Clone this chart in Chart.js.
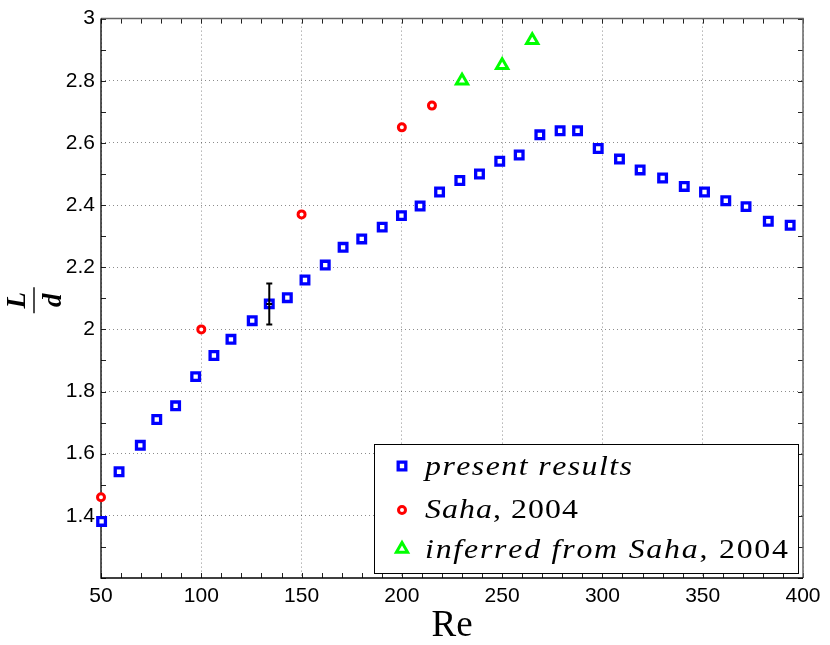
<!DOCTYPE html>
<html>
<head>
<meta charset="utf-8">
<script src="https://cdn.jsdelivr.net/npm/chart.js@4.4.1/dist/chart.umd.min.js"></script>
<style>
  html, body { margin: 0; padding: 0; background: #fff; }
  #wrap { width: 830px; height: 645px; position: relative; }
</style>
</head>
<body>
<div id="wrap"><canvas id="chart"></canvas></div>
<script>
// present results
const reValues = [50.3, 59.0, 69.6, 77.8, 87.2, 97.2, 106.3, 114.8, 125.4, 133.9, 142.9, 151.7,
  161.8, 170.7, 180.0, 190.2, 199.8, 209.1, 218.8, 228.9, 238.7, 248.8, 258.5, 268.8, 278.9,
  287.6, 297.9, 308.5, 318.8, 330.0, 340.8, 350.9, 361.5, 371.6, 382.7, 393.6];
const ldValues = [1.382, 1.542, 1.627, 1.710, 1.754, 1.848, 1.916, 1.968, 2.028, 2.082, 2.102, 2.159,
  2.207, 2.264, 2.291, 2.329, 2.366, 2.397, 2.442, 2.479, 2.500, 2.541, 2.561, 2.626, 2.639,
  2.639, 2.582, 2.548, 2.513, 2.487, 2.460, 2.442, 2.414, 2.395, 2.348, 2.335];

// Saha 2004
const sahaRe = [50, 100, 150, 200, 215];
const sahaLd = [1.46, 2.00, 2.37, 2.65, 2.72];

// inferred from Saha 2004
const inferredRe = [230, 250, 265];
const inferredLd = [2.80, 2.85, 2.93];

// error bar on one present result
const errRe = [133.9];
const errLow = [2.016];
const errHigh = [2.148];

const xTicks = [50, 100, 150, 200, 250, 300, 350, 400];
const yTicks = [1.4, 1.6, 1.8, 2, 2.2, 2.4, 2.6, 2.8, 3];

// legend text: [text, italic]
const legendRows = [
  [['present results', true]],
  [['Saha', true], [', 2004', false]],
  [['inferred from Saha', true], [', 2004', false]]
];

const toPts = (xs, ys) => xs.map((v, i) => ({ x: v, y: ys[i] }));

// frame, inward ticks, error bar, y label, legend
const extras = {
  id: 'extras',
  beforeDatasetsDraw(chart) {
    const { ctx, chartArea: a, scales: { x, y } } = chart;
    ctx.save();
    ctx.lineWidth = 1;
    ctx.strokeStyle = '#222';
    ctx.beginPath();
    for (let v = 50; v <= 400; v += 10) {
      const px = Math.round(x.getPixelForValue(v)) + 0.5;
      ctx.moveTo(px, a.bottom); ctx.lineTo(px, a.bottom - 5);
      ctx.moveTo(px, a.top); ctx.lineTo(px, a.top + 5);
    }
    for (let k = 12; k <= 30; k++) {
      const py = Math.round(y.getPixelForValue(k / 10)) + 0.5;
      ctx.moveTo(a.left, py); ctx.lineTo(a.left + 5, py);
      ctx.moveTo(a.right, py); ctx.lineTo(a.right - 5, py);
    }
    ctx.stroke();
    // box
    ctx.strokeStyle = '#666';
    ctx.lineWidth = 1.5;
    ctx.beginPath();
    ctx.moveTo(a.left, a.top); ctx.lineTo(a.right, a.top); ctx.lineTo(a.right, a.bottom);
    ctx.stroke();
    ctx.strokeStyle = '#000';
    ctx.lineWidth = 1.3;
    ctx.beginPath();
    ctx.moveTo(a.left, a.top); ctx.lineTo(a.left, a.bottom); ctx.lineTo(a.right, a.bottom);
    ctx.stroke();
    ctx.restore();
  },
  afterDatasetsDraw(chart) {
    const { ctx, chartArea: a, scales: { x, y } } = chart;
    ctx.save();

    // error bar
    ctx.strokeStyle = '#000';
    ctx.lineWidth = 2;
    errRe.forEach((r, i) => {
      const px = x.getPixelForValue(r);
      const lo = y.getPixelForValue(errLow[i]);
      const hi = y.getPixelForValue(errHigh[i]);
      const mid = y.getPixelForValue((errLow[i] + errHigh[i]) / 2);
      ctx.beginPath();
      ctx.moveTo(px, lo); ctx.lineTo(px, hi);
      ctx.moveTo(px - 3, lo); ctx.lineTo(px + 3, lo);
      ctx.moveTo(px - 3, hi); ctx.lineTo(px + 3, hi);
      ctx.moveTo(px - 3, mid); ctx.lineTo(px + 3, mid);
      ctx.stroke();
    });

    // y label: L over d
    ctx.save();
    ctx.translate(34, (a.top + a.bottom) / 2 + 2);
    ctx.rotate(-Math.PI / 2);
    ctx.fillStyle = '#000';
    ctx.font = 'bold italic 27px "Liberation Serif"';
    ctx.textAlign = 'center';
    ctx.textBaseline = 'alphabetic';
    ctx.fillText('L', 0, -9);
    ctx.fillText('d', 0, 27);
    ctx.lineWidth = 1.4;
    ctx.beginPath();
    ctx.moveTo(-13, 0); ctx.lineTo(13, 0);
    ctx.stroke();
    ctx.restore();

    // legend
    const box = { l: 374, t: 444, r: 798, b: 573 };
    ctx.fillStyle = '#fff';
    ctx.fillRect(box.l, box.t, box.r - box.l, box.b - box.t);
    ctx.strokeStyle = '#000';
    ctx.lineWidth = 1;
    ctx.strokeRect(box.l + 0.5, box.t + 0.5, box.r - box.l, box.b - box.t);

    const markerY = [466, 510, 549];
    const baseY = [475, 518, 558];
    const rowWidth = [207, 153, 363];
    chart.data.datasets.forEach((ds, i) => {
      ctx.fillStyle = ds.pointBackgroundColor;
      ctx.strokeStyle = ds.pointBorderColor;
      ctx.lineWidth = ds.pointBorderWidth;
      Chart.helpers.drawPoint(ctx, {
        pointStyle: ds.pointStyle, radius: ds.pointRadius,
        borderWidth: ds.pointBorderWidth, rotation: 0
      }, 402, markerY[i]);

      // math-italic look: widen glyphs a bit, spread the rest
      const fontOf = it => (it ? 'italic ' : '') + '27px "Liberation Serif"';
      const chars = [];
      legendRows[i].forEach(([t, it]) => { for (const ch of t) chars.push([ch, it]); });
      let natural = 0;
      chars.forEach(([ch, it]) => { ctx.font = fontOf(it); natural += ctx.measureText(ch).width; });
      const stretch = Math.min(rowWidth[i] / natural, 1.18);
      const extra = (rowWidth[i] - natural * stretch) / (chars.length - 1);
      let xx = 425;
      ctx.fillStyle = '#000';
      ctx.textAlign = 'left';
      ctx.textBaseline = 'alphabetic';
      chars.forEach(([ch, it]) => {
        ctx.font = fontOf(it);
        ctx.save();
        ctx.translate(xx, baseY[i]);
        ctx.scale(stretch, 1);
        ctx.fillText(ch, 0, 0);
        ctx.restore();
        xx += ctx.measureText(ch).width * stretch + extra;
      });
    });
    ctx.restore();
  }
};

const tickFont = { family: '"Liberation Sans", Arial, sans-serif', size: 21 };
const gridOpts = { color: 'rgba(0,0,0,0.45)', lineWidth: 1, drawTicks: false };

new Chart(document.getElementById('chart'), {
  type: 'scatter',
  data: {
    datasets: [
      {
        label: 'present results',
        data: toPts(reValues, ldValues),
        pointStyle: 'rect', pointRadius: 5.4, pointHoverRadius: 5.4,
        pointBorderWidth: 3.3, pointBorderColor: '#0000ff', pointBackgroundColor: '#ffffff',
        clip: false
      },
      {
        label: 'Saha, 2004',
        data: toPts(sahaRe, sahaLd),
        pointStyle: 'circle', pointRadius: 3.5, pointHoverRadius: 3.5,
        pointBorderWidth: 3, pointBorderColor: '#ff0000', pointBackgroundColor: '#ffffff',
        clip: false
      },
      {
        label: 'inferred from Saha, 2004',
        data: toPts(inferredRe, inferredLd),
        pointStyle: 'triangle', pointRadius: 6.5, pointHoverRadius: 6.5,
        pointBorderWidth: 3, pointBorderColor: '#00ff00', pointBackgroundColor: '#ffffff',
        clip: false
      }
    ]
  },
  options: {
    responsive: true,
    maintainAspectRatio: false,
    animation: false,
    layout: { padding: { left: 0, right: 27, top: 18, bottom: 0 } },
    plugins: { legend: { display: false }, tooltip: { enabled: false } },
    scales: {
      x: {
        type: 'linear', min: 50, max: 400,
        afterBuildTicks: s => { s.ticks = xTicks.map(v => ({ value: v })); },
        afterFit: s => { s.height = 67; },
        ticks: { font: tickFont, color: '#000', padding: 6, maxRotation: 0 },
        grid: gridOpts,
        border: { display: false, dash: [1, 3] },
        title: {
          display: true, text: 'Re', color: '#000',
          font: { family: '"Liberation Serif", serif', size: 37, lineHeight: 1 },
          padding: { top: 0, bottom: 0 }
        }
      },
      y: {
        type: 'linear', min: 1.2, max: 3,
        afterBuildTicks: s => { s.ticks = yTicks.map(v => ({ value: v })); },
        afterFit: s => { s.width = 101; },
        ticks: {
          font: tickFont, color: '#000', padding: 6,
          callback: v => String(Number(v.toFixed(1)))
        },
        grid: gridOpts,
        border: { display: false, dash: [1, 3] }
      }
    }
  },
  plugins: [extras]
});
</script>
</body>
</html>
